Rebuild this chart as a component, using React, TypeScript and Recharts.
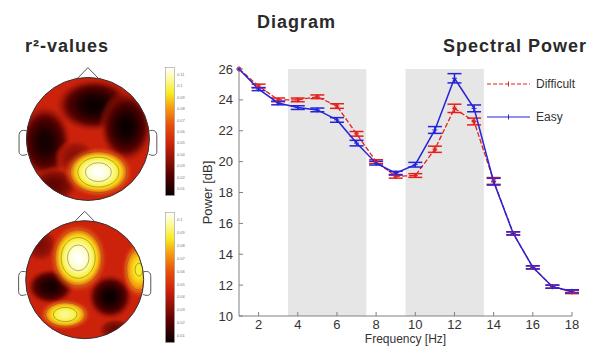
import React from 'react';
import {
  LineChart,
  Line,
  XAxis,
  YAxis,
  ReferenceArea,
  ErrorBar,
  Legend,
  ScatterChart,
  Scatter,
} from 'recharts';

// Spectral power
const frequencies = [1, 2, 3, 4, 5, 6, 7, 8, 9, 10, 11, 12, 13, 14, 15, 16, 17, 18];
const difficultPower = [26, 24.9, 24.0, 24.0, 24.2, 23.6, 21.8, 20.0, 19.05, 19.1, 20.8, 23.45, 22.6, 18.75, 15.35, 13.15, 11.9, 11.55];
const difficultError = [null, 0.12, 0.12, 0.12, 0.12, 0.15, 0.15, 0.12, 0.12, 0.12, 0.2, 0.27, 0.22, 0.22, 0.1, 0.1, 0.1, 0.1];
const easyPower = [26, 24.7, 23.8, 23.5, 23.35, 22.7, 21.2, 19.9, 19.25, 19.8, 22.05, 25.4, 23.45, 18.7, 15.35, 13.15, 11.9, 11.6];
const easyError = [null, 0.1, 0.12, 0.12, 0.12, 0.15, 0.18, 0.12, 0.12, 0.15, 0.22, 0.3, 0.22, 0.22, 0.1, 0.1, 0.1, 0.1];
const xTicks = [2, 4, 6, 8, 10, 12, 14, 16, 18];
const yTicks = [10, 12, 14, 16, 18, 20, 22, 24, 26];
const bandStarts = [3.5, 9.5];
const bandEnds = [7.5, 13.5];

// Topographic maps: spots in head units (radius 1), level is position on the colour scale
const upperSpots = [
  { x: 0.1, y: 0.55, spreadX: 0.65, spreadY: 0.45, level: 0.0 },
  { x: -0.7, y: -0.05, spreadX: 0.45, spreadY: 0.62, level: 0.02 },
  { x: 0.62, y: 0.2, spreadX: 0.45, spreadY: 0.6, level: 0.0 },
  { x: -0.55, y: -0.75, spreadX: 0.4, spreadY: 0.3, level: 0.18 },
  { x: -0.2, y: -0.3, spreadX: 0.35, spreadY: 0.3, level: 0.26 },
  { x: 0.17, y: -0.54, spreadX: 0.58, spreadY: 0.42, level: 1.0 },
];
const lowerSpots = [
  { x: -0.58, y: -0.12, spreadX: 0.42, spreadY: 0.32, level: 0.02 },
  { x: 0.43, y: -0.29, spreadX: 0.4, spreadY: 0.4, level: 0.0 },
  { x: 0.52, y: -0.85, spreadX: 0.3, spreadY: 0.2, level: 0.2 },
  { x: -0.75, y: 0.59, spreadX: 0.3, spreadY: 0.3, level: 0.24 },
  { x: -0.11, y: 0.37, spreadX: 0.5, spreadY: 0.6, level: 1.0 },
  { x: 0.92, y: 0.17, spreadX: 0.3, spreadY: 0.5, level: 0.82 },
  { x: -0.33, y: -0.59, spreadX: 0.45, spreadY: 0.27, level: 0.9 },
];
const upperScaleLabels = ['0.11', '0.1', '0.09', '0.08', '0.07', '0.06', '0.05', '0.04', '0.03', '0.02', '0.01'];
const lowerScaleLabels = ['0.1', '0.09', '0.08', '0.07', '0.06', '0.05', '0.04', '0.03', '0.02', '0.01'];

const FONT = '"Liberation Sans", Arial, sans-serif';
const RED = '#e5201c';
const BLUE = '#2424d8';
const BASE_LEVEL = 0.4;

const spectrumData = frequencies.map((f, i) => ({
  freq: f,
  difficult: difficultPower[i],
  difficultErr: difficultError[i],
  easy: easyPower[i],
  easyErr: easyError[i],
}));

// "hot"-like colour scale as it looks in the picture
const HOT: [number, number[]][] = [
  [0, [10, 0, 0]],
  [0.15, [80, 0, 0]],
  [0.4, [204, 34, 12]],
  [0.55, [232, 80, 12]],
  [0.68, [245, 154, 16]],
  [0.8, [248, 236, 32]],
  [0.92, [252, 252, 168]],
  [1, [255, 255, 255]],
];

const hot = (v: number) => {
  const t = Math.max(0, Math.min(1, v));
  for (let i = 1; i < HOT.length; i++) {
    if (t <= HOT[i][0]) {
      const [t0, c0] = HOT[i - 1];
      const [t1, c1] = HOT[i];
      const k = (t - t0) / (t1 - t0);
      const c = c0.map((a, j) => Math.round(a + (c1[j] - a) * k));
      return `rgb(${c[0]},${c[1]},${c[2]})`;
    }
  }
  return 'rgb(255,255,255)';
};

const HEAD_DOMAIN = 1.3;

const HeadMap = ({ id, spots, left, top, radius }: any) => {
  const size = 2 * HEAD_DOMAIN * radius;
  const clipId = `${id}-clip`;

  const renderBase = (p: any) => (
    <g>
      <defs>
        <clipPath id={clipId}>
          <circle cx={p.cx} cy={p.cy} r={radius} />
        </clipPath>
      </defs>
      <circle cx={p.cx} cy={p.cy} r={radius} fill={hot(BASE_LEVEL)} />
    </g>
  );

  const renderSpot = (p: any) => {
    const s = p.payload;
    const gid = `${id}-g-${p.index ?? `${s.x}-${s.y}`}`.replace(/\./g, '_');
    const stops = [];
    for (let i = 0; i <= 12; i++) {
      const t = i / 12;
      const v = s.level + (BASE_LEVEL - s.level) * t * t;
      const op = t < 0.7 ? 1 : (1 - t) / 0.3;
      stops.push(<stop key={i} offset={`${t * 100}%`} stopColor={hot(v)} stopOpacity={op} />);
    }
    const contours = s.level > 0.7
      ? [0.92, 0.8, 0.62].filter((c) => c < s.level).map((c) => Math.sqrt((s.level - c) / (s.level - BASE_LEVEL)))
      : [];
    return (
      <g clipPath={`url(#${clipId})`}>
        <defs>
          <radialGradient id={gid}>{stops}</radialGradient>
        </defs>
        <ellipse cx={p.cx} cy={p.cy} rx={s.spreadX * radius} ry={s.spreadY * radius} fill={`url(#${gid})`} />
        {contours.map((k, i) => (
          <ellipse
            key={i}
            cx={p.cx}
            cy={p.cy}
            rx={s.spreadX * radius * k}
            ry={s.spreadY * radius * k}
            fill="none"
            stroke="#6a5a40"
            strokeWidth={0.7}
            strokeOpacity={0.7}
          />
        ))}
      </g>
    );
  };

  const renderOutline = (p: any) => {
    const u = (x: number, y: number) => `${p.cx + x * radius},${p.cy - y * radius}`;
    return (
      <g fill="none" stroke="#555" strokeWidth={1}>
        <circle cx={p.cx} cy={p.cy} r={radius} stroke="#333" />
        <path d={`M${u(-0.17, 0.985)} L${u(0, 1.16)} L${u(0.17, 0.985)}`} />
        <path d={`M${u(-0.99, 0.13)} C${u(-1.08, 0.16)} ${u(-1.12, 0.12)} ${u(-1.12, 0.05)} L${u(-1.12, -0.2)} C${u(-1.12, -0.27)} ${u(-1.06, -0.28)} ${u(-0.99, -0.25)}`} />
        <path d={`M${u(0.99, 0.13)} C${u(1.08, 0.16)} ${u(1.12, 0.12)} ${u(1.12, 0.05)} L${u(1.12, -0.2)} C${u(1.12, -0.27)} ${u(1.06, -0.28)} ${u(0.99, -0.25)}`} />
      </g>
    );
  };

  return (
    <div style={{ position: 'absolute', left: left - size / 2, top: top - size / 2 }}>
      <ScatterChart width={size} height={size} margin={{ top: 0, right: 0, bottom: 0, left: 0 }}>
        <XAxis type="number" dataKey="x" domain={[-HEAD_DOMAIN, HEAD_DOMAIN]} hide />
        <YAxis type="number" dataKey="y" domain={[-HEAD_DOMAIN, HEAD_DOMAIN]} hide />
        <Scatter data={[{ x: 0, y: 0 }]} shape={renderBase} isAnimationActive={false} />
        <Scatter data={spots} shape={renderSpot} isAnimationActive={false} />
        <Scatter data={[{ x: 0, y: 0 }]} shape={renderOutline} isAnimationActive={false} />
      </ScatterChart>
    </div>
  );
};

const ColorBar = ({ id, left, top, width, height, labels }: any) => (
  <svg style={{ position: 'absolute', left, top }} width={width + 20} height={height + 2}>
    <defs>
      <linearGradient id={id} x1="0" y1="1" x2="0" y2="0">
        {HOT.map(([t]) => (
          <stop key={t} offset={`${t * 100}%`} stopColor={hot(t)} />
        ))}
      </linearGradient>
    </defs>
    <rect x={0.5} y={0.5} width={width} height={height} fill={`url(#${id})`} stroke="#999" strokeWidth={0.6} />
    {labels.map((l: string, i: number) => (
      <text
        key={l}
        x={width + 3}
        y={8 + (i * (height - 14)) / (labels.length - 1)}
        fontSize={4}
        fill="#777"
        fontFamily={FONT}
        dominantBaseline="middle"
      >
        {l}
      </text>
    ))}
  </svg>
);

const renderMarker = (kind: string, color: string) => (p: any) => {
  if (p.cx == null || p.cy == null) return <g key={p.index} />;
  const s = 2.5;
  return (
    <g key={p.index} stroke={color} strokeWidth={1}>
      <line x1={p.cx - s} y1={p.cy} x2={p.cx + s} y2={p.cy} />
      <line x1={p.cx} y1={p.cy - s} x2={p.cx} y2={p.cy + s} />
      {kind === 'star' && (
        <>
          <line x1={p.cx - 1.8} y1={p.cy - 1.8} x2={p.cx + 1.8} y2={p.cy + 1.8} />
          <line x1={p.cx - 1.8} y1={p.cy + 1.8} x2={p.cx + 1.8} y2={p.cy - 1.8} />
        </>
      )}
    </g>
  );
};

const renderLegend = (props: any) => {
  const items = props.payload || [];
  return (
    <div>
      {items.map((item: any, i: number) => (
        <div key={item.value} style={{ display: 'flex', alignItems: 'center', height: 20, marginBottom: i === 0 ? 13 : 0 }}>
          <svg width={48} height={20}>
            <line
              x1={2}
              y1={10}
              x2={45}
              y2={10}
              stroke={item.color}
              strokeWidth={1.2}
              strokeDasharray={item.value === 'Difficult' ? '4 2' : undefined}
            />
            <line x1={23.5} y1={7.5} x2={23.5} y2={12.5} stroke={item.color} strokeWidth={1} />
          </svg>
          <span style={{ fontFamily: FONT, fontSize: 12, color: '#333', marginLeft: 3 }}>{item.value}</span>
        </div>
      ))}
    </div>
  );
};

const titleStyle: React.CSSProperties = {
  position: 'absolute',
  fontFamily: FONT,
  fontWeight: 'bold',
  fontSize: 18,
  letterSpacing: 1,
  color: '#2a2a2a',
  whiteSpace: 'nowrap',
};

export default function App() {
  return (
    <div style={{ position: 'absolute', left: 0, top: 0, width: 594, height: 346, overflow: 'hidden', background: '#fff' }}>
      <div style={{ ...titleStyle, left: 257, top: 12 }}>Diagram</div>
      <div style={{ ...titleStyle, left: 443, top: 36 }}>Spectral Power</div>
      <div style={{ ...titleStyle, left: 25, top: 36 }}>r²-values</div>

      <HeadMap id="upper" spots={upperSpots} left={87.5} top={138.5} radius={61.5} />
      <ColorBar id="upperBar" left={165} top={67} width={9} height={128} labels={upperScaleLabels} />
      <HeadMap id="lower" spots={lowerSpots} left={84.5} top={280} radius={59} />
      <ColorBar id="lowerBar" left={165} top={212} width={9} height={130} labels={lowerScaleLabels} />

      <div style={{ position: 'absolute', left: 0, top: 0 }}>
        <LineChart
          width={594}
          height={346}
          data={spectrumData}
          margin={{ top: 69, right: 22, bottom: 0, left: 199 }}
        >
          <XAxis
            dataKey="freq"
            type="number"
            domain={[1, 18]}
            ticks={xTicks}
            height={30}
            stroke="#808080"
            tickSize={-4}
            tickMargin={8}
            tick={{ fill: '#333', fontSize: 13, fontFamily: FONT }}
            label={{ value: 'Frequency [Hz]', position: 'insideBottom', offset: 3, fill: '#333', fontSize: 12, fontFamily: FONT }}
          />
          <YAxis
            type="number"
            domain={[10, 26]}
            ticks={yTicks}
            width={40}
            stroke="#808080"
            tickSize={-4}
            tickMargin={10}
            tick={{ fill: '#333', fontSize: 13, fontFamily: FONT }}
            label={{
              value: 'Power [dB]',
              angle: -90,
              position: 'insideLeft',
              offset: 8,
              fill: '#333',
              fontSize: 13,
              fontFamily: FONT,
              style: { textAnchor: 'middle' },
            }}
          />
          {bandStarts.map((x1, i) => (
            <ReferenceArea key={x1} x1={x1} x2={bandEnds[i]} y1={10} y2={26} fill="#e6e6e6" fillOpacity={1} stroke="none" />
          ))}
          <Legend
            layout="vertical"
            align="center"
            verticalAlign="middle"
            content={renderLegend}
            wrapperStyle={{ left: 485, top: 74, width: 110 }}
          />
          <Line
            name="Difficult"
            dataKey="difficult"
            type="linear"
            stroke={RED}
            strokeWidth={1.3}
            strokeDasharray="5 2"
            dot={renderMarker('star', RED)}
            activeDot={false}
            isAnimationActive={false}
          >
            <ErrorBar dataKey="difficultErr" direction="y" width={7} stroke={RED} strokeWidth={1.5} />
          </Line>
          <Line
            name="Easy"
            dataKey="easy"
            type="linear"
            stroke={BLUE}
            strokeWidth={1.5}
            dot={renderMarker('plus', BLUE)}
            activeDot={false}
            isAnimationActive={false}
          >
            <ErrorBar dataKey="easyErr" direction="y" width={7} stroke={BLUE} strokeWidth={1.5} />
          </Line>
        </LineChart>
      </div>
    </div>
  );
}
